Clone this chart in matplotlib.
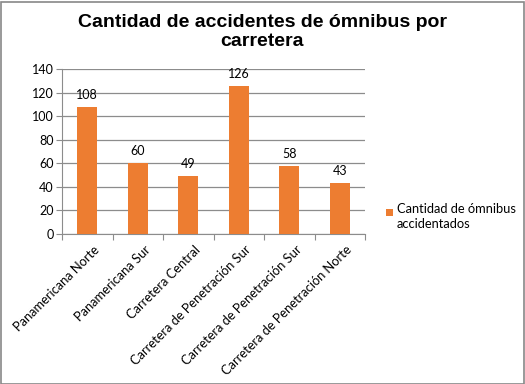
import numpy as np
import matplotlib.pyplot as plt
from matplotlib.patches import Rectangle

# ---- data ----
carreteras = ["Panamericana Norte", "Panamericana Sur", "Carretera Central",
              "Carretera de Penetración Sur", "Carretera de Penetración Sur",
              "Carretera de Penetración Norte"]
accidentes = [108, 60, 49, 126, 58, 43]
y_ticks = [0, 20, 40, 60, 80, 100, 120, 140]

W, H = 525, 384
fig = plt.figure(figsize=(W / 100, H / 100), dpi=100)
fig.patch.set_facecolor("white")
fig.patches.append(Rectangle((0.5 / W, 0.5 / H), 1 - 2 / W, 1 - 2 / H, transform=fig.transFigure,
                             fill=False, edgecolor="#888888", linewidth=1.2))

# plot area in pixel coords
left, right, top, bottom = 62, 365, 69, 234
ax = fig.add_axes([left / W, 1 - bottom / H, (right - left) / W, (bottom - top) / H])

x = np.arange(len(carreteras))
bars = ax.bar(x, accidentes, width=0.4, color="#ED7D31", zorder=3,
              label="Cantidad de ómnibus\naccidentados")

for xi, v in zip(x, accidentes):
    ax.text(xi, v + 5, str(v), ha="center", va="bottom", fontsize=9,
            family="Lato", color="black")

ax.set_xlim(-0.5, len(carreteras) - 0.5)
ax.set_ylim(0, 140)
ax.set_yticks(y_ticks)
ax.yaxis.grid(True, color="#8c8c8c", linewidth=0.9, zorder=0)
ax.tick_params(axis="y", length=4, color="#8c8c8c", labelsize=9, pad=2)
for lab in ax.get_yticklabels():
    lab.set_family("Lato")

# category boundary ticks on x
ax.set_xticks(np.arange(-0.5, len(carreteras), 1.0))
ax.set_xticklabels([])
ax.tick_params(axis="x", length=4, color="#8c8c8c")
for xi, name in zip(x, carreteras):
    ax.text(xi + 0.12, -8, name, rotation=45, ha="right", va="top",
            rotation_mode="anchor", fontsize=9.3, family="Lato")

for s in ["top", "right"]:
    ax.spines[s].set_visible(False)
ax.spines["left"].set_color("#8c8c8c")
ax.spines["bottom"].set_color("#8c8c8c")

fig.text(262 / W, 1 - 32 / H, "Cantidad de accidentes de ómnibus por\ncarretera",
         ha="center", va="center", fontsize=14, fontweight="bold",
         family="Liberation Sans", linespacing=1.1)

# legend
fig.patches.append(Rectangle((386 / W, 1 - 216 / H), 7 / W, 7 / H, transform=fig.transFigure,
                             facecolor="#ED7D31", edgecolor="none"))
fig.text(397 / W, 1 - 203 / H, "Cantidad de ómnibus\naccidentados", ha="left", va="top",
         fontsize=9.3, family="Lato", linespacing=1.35)

plt.savefig("out.png", dpi=100)
